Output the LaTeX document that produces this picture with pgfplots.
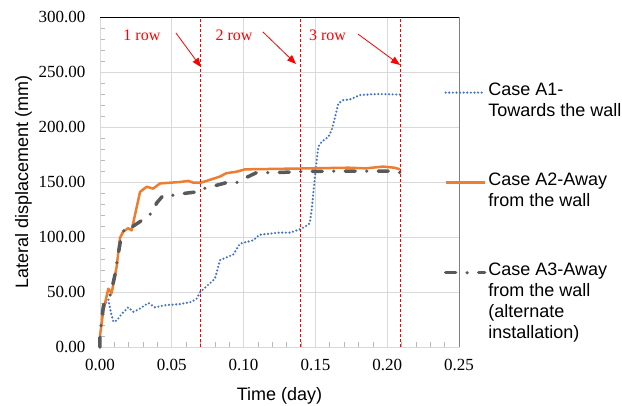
\documentclass[border=0pt]{standalone}
\usepackage{pgfplots}
\pgfplotsset{compat=1.18}
\usepackage{pgfplotstable}
\usepackage{fontspec}
\setmainfont{Liberation Sans}
\newfontfamily\tnr{Liberation Serif}
\usetikzlibrary{arrows.meta}
\definecolor{cA1}{HTML}{4472C4}
\definecolor{cA2}{HTML}{ED7D31}
\definecolor{cA3}{HTML}{595959}
\definecolor{gridc}{HTML}{D9D9D9}
\definecolor{redl}{HTML}{FF0000}

\pgfplotstableread{
x y
0.0005 15
0.002 33
0.004 40
0.0058 43
0.0075 32
0.0093 23
0.0116 24
0.0151 30
0.0197 36
0.0232 32
0.0267 34
0.0337 40
0.0383 36
0.0453 38
0.0557 39
0.0638 41
0.0673 44
0.0698 50
0.0766 58
0.0800 62
0.0836 79
0.0928 84
0.0975 94
0.1067 97
0.111 102
0.125 104
0.1323 104
0.1393 107
0.1428 109.4
0.146 112.4
0.1474 124.5
0.149 145.7
0.1504 163.7
0.152 182
0.1544 186.6
0.159 191
0.1613 197
0.1637 209
0.166 221.5
0.1695 224.5
0.174 225
0.181 229
0.1927 230
0.209 229.5
}\dataA

\pgfplotstableread{
x y
0 10
0.0023 33
0.0058 53
0.0081 49
0.0116 73
0.0139 99
0.0162 105
0.0197 108
0.022 106
0.0279 141
0.0325 145.7
0.037 144
0.0418 148.7
0.0557 150
0.0615 151
0.065 149.4
0.0703 149.4
0.0766 152
0.0836 155
0.088 158
0.0952 159.4
0.101 161.5
0.146 162.4
0.173 163
0.185 162.4
0.197 164
0.205 163
0.209 161.5
}\dataB

\pgfplotstableread{
x y
0 0
0 12
0.0023 36.6
0.0035 42.7
0.007 47
0.0081 52
0.0104 65.5
0.0128 85
0.0151 103
0.0186 109
0.0209 108
0.0279 114
0.0337 120
0.036 121.4
0.0395 131
0.0441 138
0.051 138
0.059 139.7
0.0673 141
0.072 144
0.080 146.6
0.088 149.4
0.095 149.4
0.1017 154
0.109 158.5
0.122 158.5
0.139 159.4
0.17 160
0.2 160
0.209 158.5
}\dataC

\begin{document}
\begin{tikzpicture}
\begin{axis}[
  scale only axis, width=359pt, height=330pt,
  xmin=0, xmax=0.25, ymin=0, ymax=300,
  xtick={0,0.05,0.1,0.15,0.2,0.25},
  ytick={0,50,100,150,200,250,300},
  minor x tick num=4, minor y tick num=4,
  grid=major, major grid style={gridc, line width=0.8pt},
  axis line style={gridc, line width=0.8pt},
  tick align=inside, xtick pos=bottom, ytick pos=left,
  major tick length=0pt, minor tick length=5pt,
  minor tick style={gray!55, line width=0.6pt},
  tick label style={font=\fontsize{17}{20}\selectfont\tnr},
  /pgf/number format/assume math mode=true,
  /pgf/number format/fixed, /pgf/number format/fixed zerofill,
  /pgf/number format/precision=2,
  scaled x ticks=false, scaled y ticks=false,
  yticklabel style={xshift=-11pt},
  xticklabel style={yshift=-9pt},
  xlabel={Time (day)}, ylabel={Lateral displacement (mm)},
  label style={font=\fontsize{18}{21}\selectfont},
  xlabel style={at={(axis description cs:0.5,-0.1467)}, anchor=center},
  ylabel style={at={(axis description cs:-0.213,0.5)}, anchor=center},
  legend style={draw=none, fill=none, inner sep=0pt, outer sep=0pt,
    at={(axis description cs:0.958,0.806)}, anchor=north west,
    font=\fontsize{18}{21}\selectfont,
    cells={anchor=base west}, row sep=72pt},
  legend image code/.code={\draw[#1] (0pt,3pt) -- (39pt,3pt);},
  clip=false,
]
\addplot[cA1, line width=2.4pt, line cap=round, dash pattern=on 0pt off 3.6pt] table {\dataA};
\addlegendentry{\vtop{\hbox{Case A1-}\hbox{Towards the wall}}}
\addplot[cA2, line width=2.5pt, line join=round] table {\dataB};
\addlegendentry{\vtop{\hbox{Case A2-Away}\hbox{from the wall}}}
\addplot[cA3, line width=3.5pt, line cap=round, line join=round, dash pattern=on 10pt off 11.5pt on 0pt off 11.5pt] table {\dataC};
\addlegendentry{\vtop{\hbox{Case A3-Away}\hbox{from the wall}\hbox{(alternate}\hbox{installation)}}}

\addplot[redl, line width=0.8pt, dash pattern=on 3pt off 2pt, forget plot] coordinates {(0.07,0) (0.07,300)};
\addplot[redl, line width=0.8pt, dash pattern=on 3pt off 2pt, forget plot] coordinates {(0.1397,0) (0.1397,300)};
\addplot[redl, line width=0.8pt, dash pattern=on 3pt off 2pt, forget plot] coordinates {(0.209,0) (0.209,300)};

\draw[black, line width=0.8pt] (rel axis cs:0,1) -- (rel axis cs:1,1);
\draw[gray, line width=0.9pt] (rel axis cs:1,0) -- (rel axis cs:1,1);

\node[text=redl, font=\fontsize{16}{19}\selectfont\tnr] at (axis cs:0.0292,283.6) {1 row};
\node[text=redl, font=\fontsize{16}{19}\selectfont\tnr] at (axis cs:0.0933,283.6) {2 row};
\node[text=redl, font=\fontsize{16}{19}\selectfont\tnr] at (axis cs:0.1584,283) {3 row};
\draw[redl, line width=0.8pt, -{Triangle[length=9pt,width=7pt]}] (axis cs:0.0529,285.5) -- (axis cs:0.0703,254.5);
\draw[redl, line width=0.8pt, -{Triangle[length=9pt,width=7pt]}] (axis cs:0.1135,286.4) -- (axis cs:0.1365,257.3);
\draw[redl, line width=0.8pt, -{Triangle[length=9pt,width=7pt]}] (axis cs:0.1797,284.5) -- (axis cs:0.2089,256.4);
\end{axis}
\pgfresetboundingbox
\path (current axis.south west) ++(-100pt,-58pt) rectangle ++(622pt,405pt);
\end{tikzpicture}
\end{document}
